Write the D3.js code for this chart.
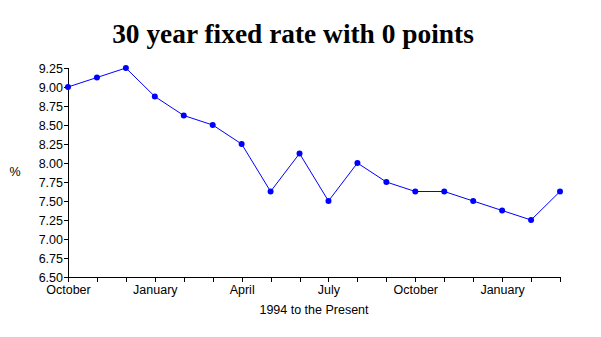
<!DOCTYPE html>
<html><head><meta charset="utf-8">
<script src="https://cdn.jsdelivr.net/npm/d3@7"></script>
<style>body{margin:0;background:#fff}svg{display:block}</style>
</head><body>
<script>
const months = ["Oct","Nov","Dec","Jan","Feb","Mar","Apr","May","Jun","Jul","Aug","Sep","Oct","Nov","Dec","Jan","Feb","Mar"];
const rates = [9.00,9.125,9.25,8.875,8.625,8.50,8.25,7.625,8.125,7.50,8.00,7.75,7.625,7.625,7.50,7.375,7.25,7.625];
const xLabels = {0:"October",3:"January",6:"April",9:"July",12:"October",15:"January"};
const yTicks = [6.50,6.75,7.00,7.25,7.50,7.75,8.00,8.25,8.50,8.75,9.00,9.25];

const W=601,H=337;
const svg=d3.select("body").append("svg").attr("width",W).attr("height",H);
const x=d3.scaleLinear().domain([0,months.length-1]).range([68,560]);
const y=d3.scaleLinear().domain([6.5,9.25]).range([277,68]);
const font="'Liberation Sans',Arial,sans-serif";

svg.append("text").attr("x",293).attr("y",43).attr("text-anchor","middle")
 .attr("font-family","'Liberation Serif','Times New Roman',serif").attr("font-weight","bold")
 .attr("font-size",27.4).text("30 year fixed rate with 0 points");

const ya=svg.append("g").attr("transform","translate(68,0)")
 .call(d3.axisLeft(y).tickValues(yTicks).tickFormat(d3.format(".2f")).tickSize(4).tickPadding(1));
const xa=svg.append("g").attr("transform","translate(0,277)")
 .call(d3.axisBottom(x).tickValues(d3.range(months.length)).tickFormat(i=>xLabels[i]||"").tickSize(5).tickPadding(1));
[ya,xa].forEach(g=>{
 g.selectAll("path,line").attr("stroke","#000").attr("shape-rendering","crispEdges");
 g.selectAll("text").attr("fill","#000").attr("font-family",font).attr("font-size",12.5);
});
xa.select(".domain").attr("d","M68,0H560");
ya.select(".domain").attr("d","M0,68V277");
xa.selectAll("text").attr("dy","0.9em");

svg.append("text").attr("x",15).attr("y",176).attr("text-anchor","middle").attr("font-family",font).attr("font-size",12.5).text("%");
svg.append("text").attr("x",314).attr("y",314).attr("text-anchor","middle").attr("font-family",font).attr("font-size",12.5).text("1994 to the Present");

svg.append("path").datum(rates).attr("fill","none").attr("stroke","#0000ff").attr("stroke-width",1)
 .attr("d",d3.line().x((d,i)=>x(i)).y(d=>y(d)));
svg.selectAll("circle.p").data(rates).join("circle").attr("class","p")
 .attr("cx",(d,i)=>x(i)).attr("cy",d=>y(d)).attr("r",3).attr("fill","#0000ff");
</script>
</body></html>
